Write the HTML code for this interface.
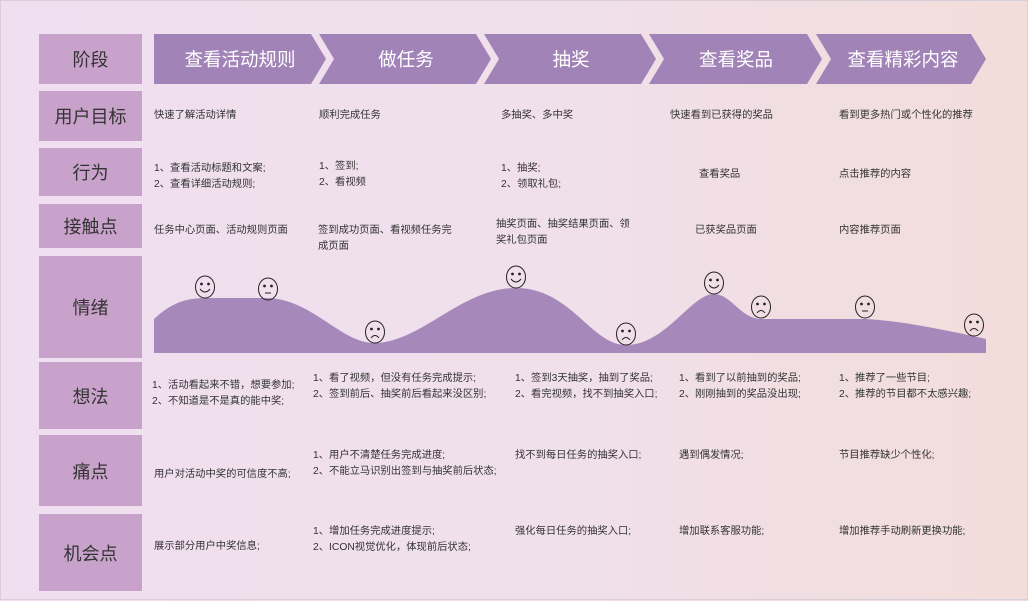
<!DOCTYPE html>
<html><head><meta charset="utf-8"><style>
*{margin:0;padding:0;box-sizing:border-box}
body{width:1028px;height:600px;overflow:hidden;font-family:"Liberation Sans","Noto Sans CJK SC",sans-serif;background:linear-gradient(90deg,#efdff0 0%,#f0e0ec 50%,#f2ddda 100%);position:relative;border:1px solid #d8cfd8}
.lab{position:absolute;left:38px;width:103px;background:#c9a2cb;color:#333;font-size:18px;display:flex;align-items:center;justify-content:center}
.t{position:absolute;font-size:10.3px;color:#333;line-height:16px;white-space:nowrap}
.ch{position:absolute;top:33px;height:50px;color:#fff;font-size:18.5px;display:flex;align-items:center;justify-content:center}
</style></head><body>
<div class="lab" style="top:33px;height:50px">阶段</div>
<div class="lab" style="top:90px;height:50px">用户目标</div>
<div class="lab" style="top:147px;height:48px">行为</div>
<div class="lab" style="top:203px;height:44px">接触点</div>
<div class="lab" style="top:255px;height:102px">情绪</div>
<div class="lab" style="top:361px;height:67px">想法</div>
<div class="lab" style="top:434px;height:71px">痛点</div>
<div class="lab" style="top:513px;height:77px">机会点</div>
<svg style="position:absolute;left:0;top:0" width="1028" height="600">
<g fill="#a283b7">
<polygon points="153,33 310,33 325,58 310,83 153,83"/>
<polygon points="318,33 475,33 490,58 475,83 318,83 333,58"/>
<polygon points="483,33 640,33 655,58 640,83 483,83 498,58"/>
<polygon points="648,33 806,33 821,58 806,83 648,83 663,58"/>
<polygon points="815,33 970,33 985,58 970,83 815,83 830,58"/>
</g>
<path fill="#a689ba" d="M153,318 C170,302 185,297 205,297 L265,297 C310,297 340,342 373,342 C420,342 460,287 515,287 C570,287 590,344 625,344 C665,344 690,293 713,293 C730,293 740,318 760,318 L865,318 C900,320 940,328 985,338 L985,352 L153,352 Z"/>
<g fill="none" stroke="#222" stroke-width="1">
<g transform="translate(204,286)"><ellipse rx="9.5" ry="11"/><circle cx="-3.5" cy="-3" r="0.9" fill="#222"/><circle cx="3.5" cy="-3" r="0.9" fill="#222"/><path d="M-5,2 Q0,8 5,2"/></g>
<g transform="translate(267,288)"><ellipse rx="9.5" ry="11"/><circle cx="-3.5" cy="-3" r="0.9" fill="#222"/><circle cx="3.5" cy="-3" r="0.9" fill="#222"/><path d="M-3,4 L3,4"/></g>
<g transform="translate(374,331)"><ellipse rx="9.5" ry="11"/><circle cx="-3.5" cy="-3" r="0.9" fill="#222"/><circle cx="3.5" cy="-3" r="0.9" fill="#222"/><path d="M-4,6 Q0,1 4,6"/></g>
<g transform="translate(515,276)"><ellipse rx="9.5" ry="11"/><circle cx="-3.5" cy="-3" r="0.9" fill="#222"/><circle cx="3.5" cy="-3" r="0.9" fill="#222"/><path d="M-5,2 Q0,8 5,2"/></g>
<g transform="translate(625,333)"><ellipse rx="9.5" ry="11"/><circle cx="-3.5" cy="-3" r="0.9" fill="#222"/><circle cx="3.5" cy="-3" r="0.9" fill="#222"/><path d="M-4,6 Q0,1 4,6"/></g>
<g transform="translate(713,282)"><ellipse rx="9.5" ry="11"/><circle cx="-3.5" cy="-3" r="0.9" fill="#222"/><circle cx="3.5" cy="-3" r="0.9" fill="#222"/><path d="M-5,2 Q0,8 5,2"/></g>
<g transform="translate(760,306)"><ellipse rx="9.5" ry="11"/><circle cx="-3.5" cy="-3" r="0.9" fill="#222"/><circle cx="3.5" cy="-3" r="0.9" fill="#222"/><path d="M-4,6 Q0,1 4,6"/></g>
<g transform="translate(864,306)"><ellipse rx="9.5" ry="11"/><circle cx="-3.5" cy="-3" r="0.9" fill="#222"/><circle cx="3.5" cy="-3" r="0.9" fill="#222"/><path d="M-3,4 L3,4"/></g>
<g transform="translate(973,324)"><ellipse rx="9.5" ry="11"/><circle cx="-3.5" cy="-3" r="0.9" fill="#222"/><circle cx="3.5" cy="-3" r="0.9" fill="#222"/><path d="M-4,6 Q0,1 4,6"/></g>
</g>
</svg>
<div class="ch" style="left:153px;width:172px">查看活动规则</div>
<div class="ch" style="left:330px;width:150px">做任务</div>
<div class="ch" style="left:495px;width:150px">抽奖</div>
<div class="ch" style="left:660px;width:150px">查看奖品</div>
<div class="ch" style="left:827px;width:150px">查看精彩内容</div>

<div class="t" style="left:153px;top:107px">快速了解活动详情</div>
<div class="t" style="left:318px;top:107px">顺利完成任务</div>
<div class="t" style="left:500px;top:107px">多抽奖、多中奖</div>
<div class="t" style="left:669px;top:107px">快速看到已获得的奖品</div>
<div class="t" style="left:838px;top:107px">看到更多热门或个性化的推荐</div>

<div class="t" style="left:153px;top:160px">1、查看活动标题和文案;<br>2、查看详细活动规则;</div>
<div class="t" style="left:318px;top:158px">1、签到;<br>2、看视频</div>
<div class="t" style="left:500px;top:160px">1、抽奖;<br>2、领取礼包;</div>
<div class="t" style="left:698px;top:166px">查看奖品</div>
<div class="t" style="left:838px;top:166px">点击推荐的内容</div>

<div class="t" style="left:153px;top:222px">任务中心页面、活动规则页面</div>
<div class="t" style="left:317px;top:222px">签到成功页面、看视频任务完<br>成页面</div>
<div class="t" style="left:495px;top:216px">抽奖页面、抽奖结果页面、领<br>奖礼包页面</div>
<div class="t" style="left:694px;top:222px">已获奖品页面</div>
<div class="t" style="left:838px;top:222px">内容推荐页面</div>

<div class="t" style="left:151px;top:377px">1、活动看起来不错，想要参加;<br>2、不知道是不是真的能中奖;</div>
<div class="t" style="left:312px;top:370px">1、看了视频，但没有任务完成提示;<br>2、签到前后、抽奖前后看起来没区别;</div>
<div class="t" style="left:514px;top:370px">1、签到3天抽奖，抽到了奖品;<br>2、看完视频，找不到抽奖入口;</div>
<div class="t" style="left:678px;top:370px">1、看到了以前抽到的奖品;<br>2、刚刚抽到的奖品没出现;</div>
<div class="t" style="left:838px;top:370px">1、推荐了一些节目;<br>2、推荐的节目都不太感兴趣;</div>

<div class="t" style="left:153px;top:466px">用户对活动中奖的可信度不高;</div>
<div class="t" style="left:312px;top:447px">1、用户不清楚任务完成进度;<br>2、不能立马识别出签到与抽奖前后状态;</div>
<div class="t" style="left:514px;top:447px">找不到每日任务的抽奖入口;</div>
<div class="t" style="left:678px;top:447px">遇到偶发情况;</div>
<div class="t" style="left:838px;top:447px">节目推荐缺少个性化;</div>

<div class="t" style="left:153px;top:538px">展示部分用户中奖信息;</div>
<div class="t" style="left:312px;top:523px">1、增加任务完成进度提示;<br>2、ICON视觉优化，体现前后状态;</div>
<div class="t" style="left:514px;top:523px">强化每日任务的抽奖入口;</div>
<div class="t" style="left:678px;top:523px">增加联系客服功能;</div>
<div class="t" style="left:838px;top:523px">增加推荐手动刷新更换功能;</div>
</body></html>
